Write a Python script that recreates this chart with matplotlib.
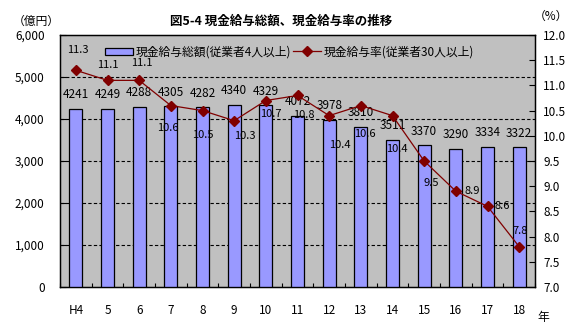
import numpy as np
import matplotlib.pyplot as plt
from matplotlib.ticker import FuncFormatter, FixedLocator

plt.rcParams['font.family'] = ['Noto Sans CJK JP', 'DejaVu Sans']

# data
years = ['H4', '5', '6', '7', '8', '9', '10', '11', '12', '13', '14', '15', '16', '17', '18']
total_pay = [4241, 4249, 4288, 4305, 4282, 4340, 4329, 4072, 3978, 3810, 3511, 3370, 3290, 3334, 3322]
pay_rate = [11.3, 11.1, 11.1, 10.6, 10.5, 10.3, 10.7, 10.8, 10.4, 10.6, 10.4, 9.5, 8.9, 8.6, 7.8]

# where each rate label sits relative to its marker (pixels, +y = down)
rate_offsets = [(2, -20), (0, -15), (3, -17), (-3, 22), (0, 24), (11, 15), (5, 13),
                (6, 20), (11, 29), (4, 28), (4, 33), (7, 22), (16, 0), (15, 0), (1, -16)]

W, H = 578, 326
fig = plt.figure(figsize=(W / 100, H / 100), dpi=100)
ax = fig.add_axes([60 / W, 1 - 287 / H, 475 / W, 252 / H])
ax.set_facecolor('#C0C0C0')
px = 0.72  # points per pixel

x = np.arange(len(years))
bars = ax.bar(x, total_pay, width=0.41, color='#9999FF', edgecolor='black', linewidth=0.9, zorder=3)
ax.set_xlim(-0.5, len(years) - 0.5)
ax.set_ylim(0, 6000)
ax.set_yticks(np.arange(0, 6001, 1000))
ax.yaxis.set_major_formatter(FuncFormatter(lambda v, p: f'{int(v):,}'))
ax.set_xticks(x)
ax.set_xticklabels(years)
ax.xaxis.set_minor_locator(FixedLocator(np.arange(-0.5, len(years), 1)))
ax.tick_params(axis='x', which='major', length=0, pad=12, labelsize=8.5)
ax.tick_params(axis='x', which='minor', direction='in', length=3, width=0.8)
ax.tick_params(axis='y', direction='in', length=4, width=0.8, pad=11, labelsize=8.5)
for y in range(1000, 6000, 1000):
    ax.axhline(y, color='black', lw=0.8, ls=(0, (3, 2)), zorder=1)
for s in ax.spines.values():
    s.set_linewidth(1.0)

for b, v in zip(bars, total_pay):
    ax.annotate(str(v), (b.get_x() + b.get_width() / 2, v), xytext=(0, 14 * px),
                textcoords='offset points', ha='center', va='center', fontsize=8.5, zorder=5)

ax2 = ax.twinx()
ax2.set_ylim(7.0, 12.0)
ax2.set_yticks(np.arange(7.0, 12.01, 0.5))
ax2.yaxis.set_major_formatter(FuncFormatter(lambda v, p: f'{v:.1f}'))
ax2.tick_params(axis='y', direction='in', length=4, width=0.8, pad=6, labelsize=8.5)
line, = ax2.plot(x, pay_rate, color='#800000', lw=0.9, marker='D', markersize=5,
                 markerfacecolor='#800000', markeredgecolor='#800000', zorder=4)
for xi, v, (dx, dy) in zip(x, pay_rate, rate_offsets):
    ax2.annotate(f'{v:.1f}', (xi, v), xytext=(dx * px, -dy * px), textcoords='offset points',
                 ha='center', va='center', fontsize=8)

leg1 = ax2.legend([bars], ['現金給与総額(従業者4人以上)'], loc='center left',
                  bbox_to_anchor=(105 / W, 1 - 52 / H), bbox_transform=fig.transFigure,
                  frameon=False, fontsize=8.5, handlelength=2.4, handleheight=0.5,
                  handletextpad=0.2, borderpad=0, borderaxespad=0)
ax2.add_artist(leg1)
ax2.legend([line], ['現金給与率(従業者30人以上)'], loc='center left',
           bbox_to_anchor=(293 / W, 1 - 52 / H), bbox_transform=fig.transFigure,
           frameon=False, fontsize=8.5, handlelength=2.4, handletextpad=0.2,
           borderpad=0, borderaxespad=0)

fig.text(281 / W, 1 - 21 / H, '図5-4 現金給与総額、現金給与率の推移', ha='center', va='center',
         fontsize=9, fontweight='bold')
fig.text(36 / W, 1 - 21 / H, '（億円）', ha='center', va='center', fontsize=8.5)
fig.text(551 / W, 1 - 16 / H, '（%）', ha='center', va='center', fontsize=8.5)
fig.text(543 / W, 1 - 317 / H, '年', ha='center', va='center', fontsize=8.5)

fig.savefig('out.png', dpi=100)
